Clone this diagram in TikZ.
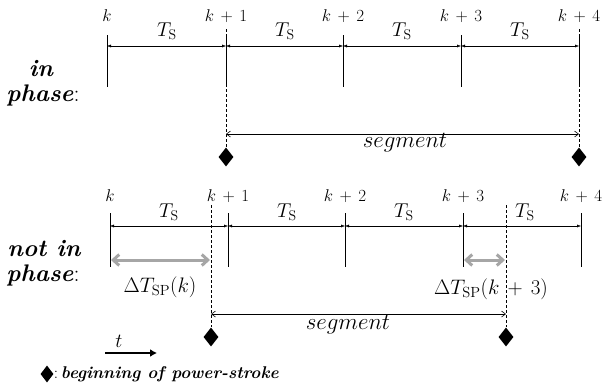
\RequirePackage{fix-cm}
\documentclass[tikz,border=0pt]{standalone}
\usetikzlibrary{arrows.meta,shapes.geometric}
\newcommand{\wplus}{\mkern3mu+\mkern3mu}
\begin{document}
\begin{tikzpicture}[x=1pt,y=-1pt,
  tick/.style={line width=0.8pt},
  dimarr/.style={line width=0.4pt,{Latex[length=4pt,width=3pt]}-{Latex[length=4pt,width=3pt]}},
  segarr/.style={line width=0.6pt,{Straight Barb[length=4pt,width=6pt]}-{Straight Barb[length=4pt,width=6pt]}},
  dashline/.style={line width=0.6pt,dash pattern=on 3pt off 2pt},
  grayarr/.style={line width=3pt,draw={rgb,255:red,166;green,166;blue,166},{Straight Barb[length=6pt,width=11pt]}-{Straight Barb[length=6pt,width=11pt]}},
  klab/.style={font=\fontsize{17}{19}\selectfont},
  tslab/.style={font=\fontsize{20}{22}\selectfont},
  dlab/.style={font=\fontsize{21}{23}\selectfont},
  seglab/.style={font=\fontsize{23}{25}\selectfont},
  rowlab/.style={font=\fontsize{24}{26}\selectfont\bfseries\itshape},
  psmark/.style={diamond,fill=black,inner sep=0pt,minimum width=15pt,minimum height=19pt},
]
\useasboundingbox (0,0) rectangle (603,389);

% ---------- top row ----------
\foreach \n/\x in {0/107,1/226,2/343,3/461,4/579}{
  \coordinate (ta\n) at (\x,35);
  \coordinate (tb\n) at (\x,87);
  \coordinate (td\n) at (\x,46);
  \draw[tick] (ta\n) -- (tb\n);
}
\node[klab] (tk0) at (107,16) {$k$};
\node[klab] (tk1) at (226,16) {$k\wplus1$};
\node[klab] (tk2) at (343,16) {$k\wplus2$};
\node[klab] (tk3) at (461,16) {$k\wplus3$};
\node[klab] (tk4) at (579,16) {$k\wplus4$};
\foreach \a/\b in {0/1,1/2,2/3,3/4}{
  \draw[dimarr] (td\a) -- (td\b);
}
\node[tslab] (tT0) at (167,31) {$T_\mathrm{S}$};
\node[tslab] (tT1) at (285,31) {$T_\mathrm{S}$};
\node[tslab] (tT2) at (402,31) {$T_\mathrm{S}$};
\node[tslab] (tT3) at (520,31) {$T_\mathrm{S}$};

\node[psmark] (tdA) at (226,157) {};
\node[psmark] (tdB) at (579,157) {};
\coordinate (tdAtop) at (226,29);
\coordinate (tdBtop) at (579,29);
\draw[dashline] (tdAtop) -- (tdA.north);
\draw[dashline] (tdBtop) -- (tdB.north);
\coordinate (tsA) at (226,134);
\coordinate (tsB) at (579,134);
\draw[segarr] (tsA) -- (tsB);
\node[seglab] (tseg) at (405,143) {$segment$};

\node[rowlab] (tin) at (41,69) {in};
\node[rowlab] (tph) at (43,95) {phase\textmd{\upshape:}};

% ---------- bottom row ----------
\foreach \n/\x in {0/110,1/228,2/345,3/463,4/581}{
  \coordinate (ba\n) at (\x,213);
  \coordinate (bb\n) at (\x,267);
  \coordinate (bd\n) at (\x,226);
  \draw[tick] (ba\n) -- (bb\n);
}
\node[klab] (bk0) at (110,196) {$k$};
\node[klab] (bk1) at (228,196) {$k\wplus1$};
\node[klab] (bk2) at (345,196) {$k\wplus2$};
\node[klab] (bk3) at (463,196) {$k\wplus3$};
\node[klab] (bk4) at (581,196) {$k\wplus4$};
\foreach \a/\b in {0/1,1/2,2/3,3/4}{
  \draw[dimarr] (bd\a) -- (bd\b);
}
\node[tslab] (bT0) at (169,212) {$T_\mathrm{S}$};
\node[tslab] (bT1) at (287,212) {$T_\mathrm{S}$};
\node[tslab] (bT2) at (404,212) {$T_\mathrm{S}$};
\node[tslab] (bT3) at (525,212) {$T_\mathrm{S}$};

\node[psmark] (bdA) at (211,337) {};
\node[psmark] (bdB) at (506,337) {};
\coordinate (bdAtop) at (211,205);
\coordinate (bdBtop) at (506,205);
\draw[dashline] (bdAtop) -- (bdA.north);
\draw[dashline] (bdBtop) -- (bdB.north);
\coordinate (bsA) at (211,314);
\coordinate (bsB) at (506,314);
\draw[segarr] (bsA) -- (bsB);
\node[seglab] (bseg) at (348,325) {$segment$};

\coordinate (gA1) at (111,260);
\coordinate (gA2) at (210,260);
\coordinate (gB1) at (464,260);
\coordinate (gB2) at (505,260);
\draw[grayarr] (gA1) -- (gA2);
\draw[grayarr] (gB1) -- (gB2);
\node[dlab] (dk) at (160,287) {$\Delta T_\mathrm{SP}(k)$};
\node[dlab] (dk3) at (491,289) {$\Delta T_\mathrm{SP}(k\wplus3)$};

\node[rowlab] (bnot) at (44,249) {not in};
\node[rowlab] (bph) at (43,275) {phase\textmd{\upshape:}};

% time arrow
\coordinate (tA) at (105,353);
\coordinate (tB) at (157,353);
\draw[line width=1.8pt,-{Latex[length=7pt,width=8pt]}] (tA) -- (tB);
\node[tslab] (tlab) at (119,341) {$t$};

% legend
\node[psmark,minimum width=13pt,minimum height=17pt] (lgd) at (47,374) {};
\node[anchor=west,inner sep=0pt,font=\fontsize{17}{19}\selectfont] (lgt) at (lgd.east) {:\,\textbf{\textit{beginning of power-stroke}}};
\end{tikzpicture}
\end{document}
